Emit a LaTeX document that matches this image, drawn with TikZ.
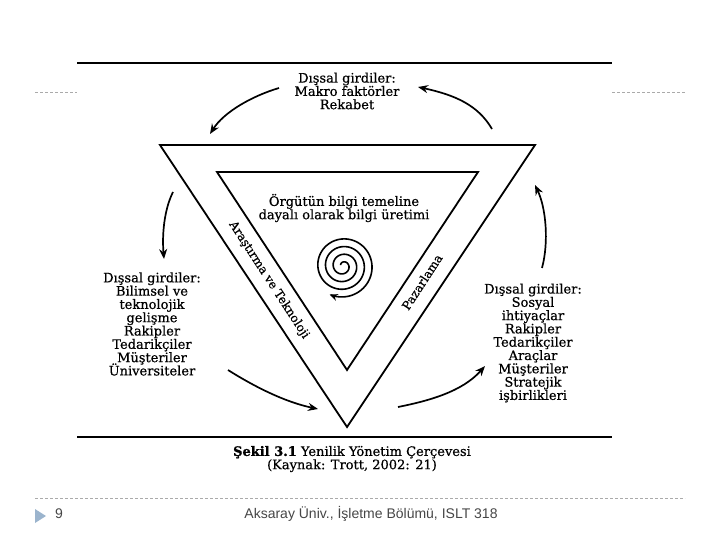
\documentclass[tikz,border=0pt]{standalone}
\usepackage{fontspec}
\setmainfont[FakeBold=1.2]{DejaVu Serif}
\newfontfamily\figfont[FakeBold=0.6]{DejaVu Serif}
\newfontfamily\footfont{Liberation Sans}
\usetikzlibrary{arrows.meta}
\setlength{\lineskiplimit}{-20pt}
\setlength{\lineskip}{0pt}
\definecolor{dashgray}{RGB}{170,170,170}
\definecolor{footgray}{RGB}{70,70,70}
\definecolor{marker}{RGB}{155,180,205}
\begin{document}
\begin{tikzpicture}[x=1pt,y=-1pt,
  txt/.style={font=\figfont\fontsize{13}{13.3}\selectfont, align=center, inner sep=0pt},
  side/.style={font=\figfont\fontsize{12}{12}\selectfont, inner sep=0pt},
  arr/.style={line width=1.7pt, -{Stealth[length=10pt,width=8pt]}},
  rule/.style={line width=2pt},
  tri/.style={line width=1.8pt, line join=miter},
  dashline/.style={dashgray, line width=0.6pt, dash pattern=on 3pt off 2pt},
  foottxt/.style={font=\footfont\fontsize{14}{16}\selectfont, text=footgray, inner sep=0pt}]
\useasboundingbox (0,0) rectangle (720,540);
% horizontal rules
\draw[rule] (77,63) -- (612,63);
\draw[rule] (77,437) -- (612,437);
\draw[dashline] (35,92) -- (77,92);
\draw[dashline] (612,92) -- (685,92);
\draw[dashline] (35,498) -- (685,498);
% triangles
\draw[tri] (160,145) -- (535,145) -- (347,427) -- cycle;
\draw[tri] (217,172) -- (478,172) -- (347,370) -- cycle;
% texts
\node[txt] (top) at (347,91) {Dışsal girdiler:\\Makro faktörler\\Rekabet};
\node[txt] (left) at (152,324) {Dışsal girdiler:\\Bilimsel ve\\teknolojik\\gelişme\\Rakipler\\Tedarikçiler\\Müşteriler\\Üniversiteler};
\node[txt] (right) at (533,343) {Dışsal girdiler:\\Sosyal\\ihtiyaçlar\\Rakipler\\Tedarikçiler\\Araçlar\\Müşteriler\\Stratejik\\işbirlikleri};
\node[txt] (core) at (344,208) {Örgütün bilgi temeline\\dayalı olarak bilgi üretimi};
\node[side, rotate=-57] (rd) at (269,280) {Araştırma ve Teknoloji};
\node[side, rotate=57] (mk) at (422,282) {Pazarlama};
\node[txt] (cap) at (352,459) {{\rmfamily\bfseries Şekil 3.1} Yenilik Yönetim Çerçevesi\\(Kaynak: Trott, 2002: 21)};
% arrows
\coordinate (a1s) at (279,88); \coordinate (a1e) at (210,134);
\coordinate (a2s) at (492,129); \coordinate (a2e) at (418,87);
\coordinate (a3s) at (173,192); \coordinate (a3e) at (164,259);
\coordinate (a4s) at (228,370); \coordinate (a4e) at (318,409);
\coordinate (a5s) at (398,407); \coordinate (a5e) at (485,366);
\coordinate (a6s) at (542,268); \coordinate (a6e) at (535,185);
\draw[arr] (a1s) .. controls (252,96) and (224,112) .. (a1e);
\draw[arr] (a2s) .. controls (478,105) and (455,95) .. (a2e);
\draw[arr] (a3s) .. controls (164,210) and (162,235) .. (a3e);
\draw[arr] (a4s) .. controls (255,387) and (285,402) .. (a4e);
\draw[arr] (a5s) .. controls (428,401) and (462,392) .. (a5e);
\draw[arr] (a6s) .. controls (549,242) and (546,208) .. (a6e);
% spiral
\draw[line width=1.6pt, -{Stealth[length=8pt,width=7pt]}] plot[domain=-158:1195, samples=400, smooth] ({343+(29+0.0214*(\x-1080))*cos(\x)},{266+(29+0.0214*(\x-1080))*sin(\x)});
% footer
\fill[marker] (35,509) -- (46,516) -- (35,523) -- cycle;
\node[foottxt] (num) at (59,514) {9};
\node[foottxt] (foot) at (371,514) {Aksaray Üniv., İşletme Bölümü, ISLT 318};
\end{tikzpicture}
\end{document}
